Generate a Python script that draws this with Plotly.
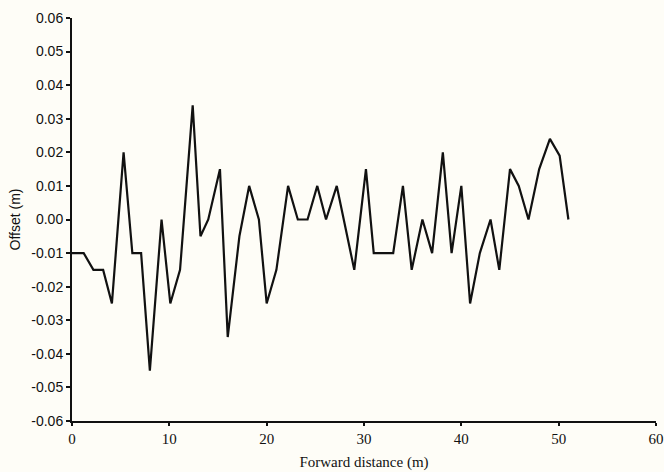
import plotly.graph_objects as go

distance_m = [0, 1.2, 2.2, 3.2, 4.1, 5.3, 6.2, 7.1, 8.0, 9.2, 10.1, 11.1, 12.4, 13.2,
              14.0, 15.2, 16.0, 17.2, 18.2, 19.2, 20.0, 21.0, 22.2, 23.2, 24.2, 25.2,
              26.1, 27.2, 29.0, 30.2, 31.0, 32.0, 33.0, 34.0, 34.9, 36.0, 37.0, 38.1,
              39.0, 40.0, 40.9, 41.9, 43.0, 43.9, 45.0, 45.9, 46.9, 48.0, 49.1, 50.1, 51.0]
offset_m = [-0.01, -0.01, -0.015, -0.015, -0.025, 0.02, -0.01, -0.01, -0.045, 0.0,
            -0.025, -0.015, 0.034, -0.005, 0.0, 0.015, -0.035, -0.005, 0.01, 0.0,
            -0.025, -0.015, 0.01, 0.0, 0.0, 0.01, 0.0, 0.01, -0.015, 0.015, -0.01,
            -0.01, -0.01, 0.01, -0.015, 0.0, -0.01, 0.02, -0.01, 0.01, -0.025, -0.01,
            0.0, -0.015, 0.015, 0.01, 0.0, 0.015, 0.024, 0.019, 0.0]

x_ticks = [0, 10, 20, 30, 40, 50, 60]
y_ticks = [-0.06, -0.05, -0.04, -0.03, -0.02, -0.01, 0.0, 0.01, 0.02, 0.03, 0.04, 0.05, 0.06]
y_tick_labels = ["-0.06", "-0.05", "-0.04", "-0.03", "-0.02", "-0.01", "0.00",
                 "0.01", "0.02", "0.03", "0.04", "0.05", "0.06"]

bg = "#fefdf7"

fig = go.Figure()
fig.add_trace(go.Scatter(x=distance_m, y=offset_m, mode="lines",
                         line=dict(color="#111111", width=2.2),
                         showlegend=False, hoverinfo="skip"))

fig.update_layout(
    width=664, height=472,
    margin=dict(l=72, r=8, t=18, b=51),
    paper_bgcolor=bg, plot_bgcolor=bg,
    xaxis=dict(range=[0, 60], tickvals=x_ticks, showgrid=False, zeroline=False,
               automargin=False,
               showline=True, linecolor="#111111", linewidth=2,
               ticks="outside", ticklen=3, tickwidth=1.5, tickcolor="#111111",
               tickfont=dict(family="Liberation Serif", size=15, color="#111111"),
               title=dict(text="Forward distance (m)", standoff=10,
                          font=dict(family="Liberation Serif", size=15, color="#111111"))),
    yaxis=dict(range=[-0.06, 0.06], tickvals=y_ticks, ticktext=y_tick_labels,
               showgrid=False, zeroline=False, automargin=False,
               showline=True, linecolor="#111111", linewidth=2,
               ticks="outside", ticklen=4, tickwidth=1.5, tickcolor="#111111",
               tickfont=dict(family="Liberation Sans", size=14, color="#111111"),
               title=dict(text="Offset (m)", standoff=7,
                          font=dict(family="Liberation Sans", size=14, color="#111111"))),
)

fig.write_html("out.html", config={"displayModeBar": False},
               post_script="document.body.style.margin='0';document.body.style.overflow='hidden';")
